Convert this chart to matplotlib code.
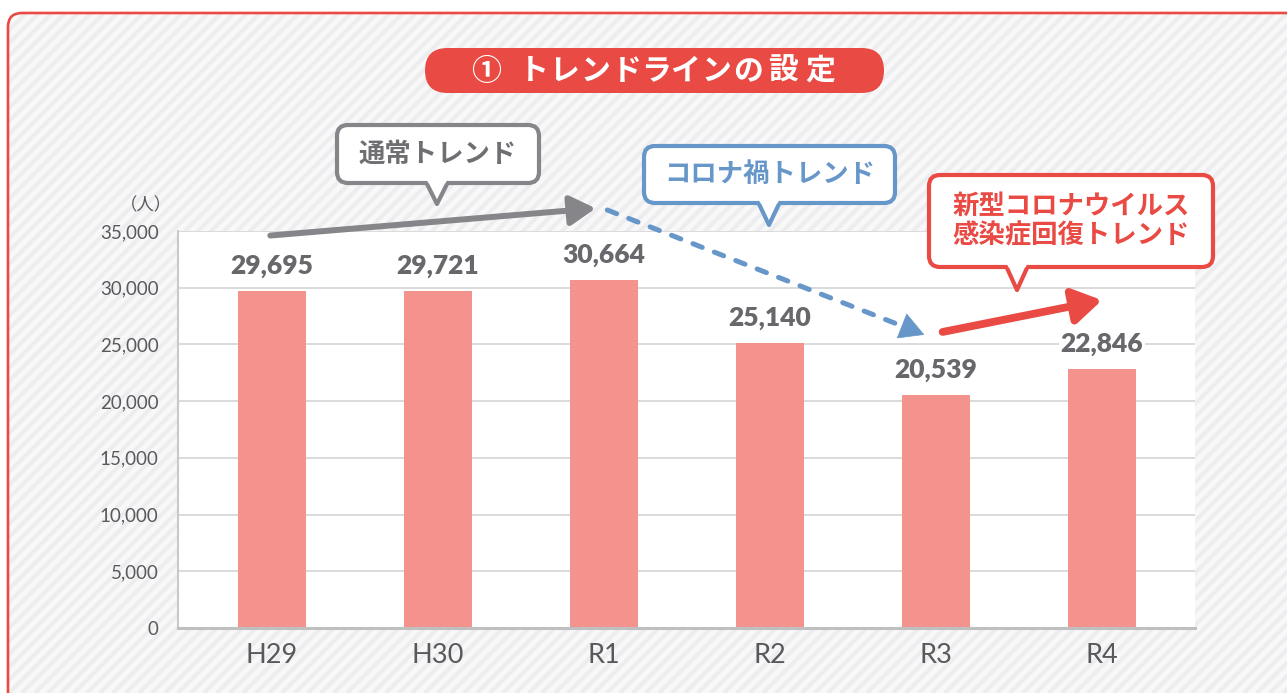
import matplotlib.pyplot as plt
from matplotlib.patches import FancyBboxPatch, Polygon
import numpy as np

plt.rcParams['font.family'] = ['Lato', 'Noto Sans CJK JP', 'DejaVu Sans']

# data
years = ['H29', 'H30', 'R1', 'R2', 'R3', 'R4']
visitors = [29695, 29721, 30664, 25140, 20539, 22846]
y_ticks = [0, 5000, 10000, 15000, 20000, 25000, 30000, 35000]

# trend arrows (x in bar index, y in people)
trend_normal = [(-0.01, 34600), (1.95, 37000)]
trend_corona = [(2.02, 36850), (3.93, 25850)]
trend_recover = [(4.04, 26100), (5.0, 28900)]

title = '①トレンドラインの設定'
note_normal = '通常トレンド'
note_corona = 'コロナ禍トレンド'
note_recover = '新型コロナウイルス\n感染症回復トレンド'

RED = '#e94a43'
GRAY = '#85858a'
BLUE = '#6797c9'
BAR = '#f4928d'
TXT = '#68686c'

W, H = 1287, 693
fig = plt.figure(figsize=(W / 100, H / 100), dpi=100)
fig.patch.set_facecolor('white')

# background with stripes, pixel coords
bg = fig.add_axes([0, 0, 1, 1], zorder=0)
bg.set_xlim(0, W)
bg.set_ylim(H, 0)
bg.axis('off')
frame = FancyBboxPatch((8, 13), W + 40, H + 40, boxstyle='round,pad=0,rounding_size=14',
                       fc='#f8f8f9', ec='none', zorder=1)
bg.add_patch(frame)
for x0 in np.arange(-H, W + 20, 13):
    ln, = bg.plot([x0, x0 + H], [H, 0], color='#ededef', lw=2.9, solid_capstyle='butt', zorder=2)
    ln.set_clip_path(frame)
border = FancyBboxPatch((8, 13), W + 40, H + 40, boxstyle='round,pad=0,rounding_size=14',
                        fc='none', ec=RED, lw=1.9, zorder=3)
bg.add_patch(border)

# main chart
ax = fig.add_axes([178 / W, 65 / H, 1017 / W, 397 / H], zorder=1)
ax.set_facecolor('white')
ax.bar(range(len(years)), visitors, width=0.41, color=BAR, zorder=2)
ax.set_xlim(-0.566, 5.56)
ax.set_ylim(0, 35000)
ax.set_yticks(y_ticks)
ax.set_yticklabels([f'{v:,}' for v in y_ticks], fontsize=13.5, color='#59595b')
ax.set_xticks(range(len(years)))
ax.set_xticklabels(years, fontsize=19.5, color='#59595b')
ax.tick_params(axis='y', length=0, pad=14)
ax.tick_params(axis='x', length=0, pad=11)
ax.yaxis.grid(True, color='#d4d4d4', lw=1.2)
ax.set_axisbelow(True)
for s in ['top', 'right']:
    ax.spines[s].set_visible(False)
ax.spines['bottom'].set_color('#bfbfbf')
ax.spines['bottom'].set_linewidth(2.2)
ax.spines['left'].set_color('#c9c9c9')
ax.spines['left'].set_linewidth(1.5)

for i, v in enumerate(visitors):
    ax.annotate(f'{v:,}', (i, v), xytext=(0, 18), textcoords='offset points',
                ha='center', va='center', fontsize=19, fontweight='heavy', color=TXT,
                bbox=dict(fc='white', ec='none', pad=1), zorder=3)

ax.text(-0.76, 37300, '（人）', ha='center', va='center', fontsize=12.5,
        color='#59595b', family=['Noto Sans CJK JP'])

# arrows
(x0, y0), (x1, y1) = trend_normal
ax.annotate('', xy=(x1, y1), xytext=(x0, y0), annotation_clip=False, zorder=5,
            arrowprops=dict(arrowstyle='-|>,head_length=0.55,head_width=0.32', mutation_scale=28,
                            color=GRAY, lw=4.3, shrinkA=0, shrinkB=0, capstyle='round'))

(x0, y0), (x1, y1) = trend_corona
xm, ym = x0 + (x1 - x0) * 0.93, y0 + (y1 - y0) * 0.93
ax.plot([x0, xm], [y0, ym], color=BLUE, lw=3.6, dashes=(2.0, 2.6),
        dash_capstyle='round', clip_on=False, zorder=5)
ax.annotate('', xy=(x1, y1), xytext=(xm, ym), annotation_clip=False, zorder=5,
            arrowprops=dict(arrowstyle='-|>,head_length=0.6,head_width=0.33', mutation_scale=28,
                            color=BLUE, lw=0.5, shrinkA=0, shrinkB=0))

(x0, y0), (x1, y1) = trend_recover
ax.annotate('', xy=(x1, y1), xytext=(x0, y0), annotation_clip=False, zorder=5,
            arrowprops=dict(arrowstyle='-|>,head_length=0.55,head_width=0.34', mutation_scale=31,
                            color=RED, lw=5.6, shrinkA=0, shrinkB=0, capstyle='round'))

# overlay: title and callouts, pixel coords
top = fig.add_axes([0, 0, 1, 1], zorder=2)
top.set_xlim(0, W)
top.set_ylim(H, 0)
top.axis('off')
top.patch.set_alpha(0)

top.add_patch(FancyBboxPatch((425, 48), 459, 45, boxstyle='round,pad=0,rounding_size=22.5',
                             fc=RED, ec='none'))
title_x = [486, 534, 564, 595, 627, 656, 685, 716, 748, 783, 820]
for ch, cx in zip(title, title_x):
    top.text(cx, 71, ch, ha='center', va='center', fontsize=21.5, fontweight='bold',
             color='white', family=['Noto Sans CJK JP'])


def callout(x, y, w, h, tail_x, tail_tip, color, text, tcolor):
    top.add_patch(FancyBboxPatch((x, y), w, h, boxstyle='round,pad=0,rounding_size=11',
                                 fc='white', ec=color, lw=3))
    b = y + h
    half = 10
    top.add_patch(Polygon([(tail_x - half, b - 3), (tail_x + half, b - 3), tail_tip],
                          closed=True, fc='white', ec='none', zorder=3))
    top.plot([tail_x - half, tail_tip[0], tail_x + half], [b + 1, tail_tip[1], b + 1],
             color=color, lw=3, solid_joinstyle='round', solid_capstyle='butt', zorder=4)
    top.text(x + w / 2, y + h / 2, text, ha='center', va='center', fontsize=19,
             fontweight='bold', color=tcolor, family=['Noto Sans CJK JP'],
             linespacing=1.1, zorder=5)


callout(337, 125, 202, 58, 437, (437, 204), GRAY, note_normal, '#6f6f73')
callout(644, 146, 251, 57, 769, (769, 225), BLUE, note_corona, BLUE)
callout(929, 175, 284, 92, 1017, (1017, 290), RED, note_recover, RED)

fig.savefig('out.png', dpi=100)
